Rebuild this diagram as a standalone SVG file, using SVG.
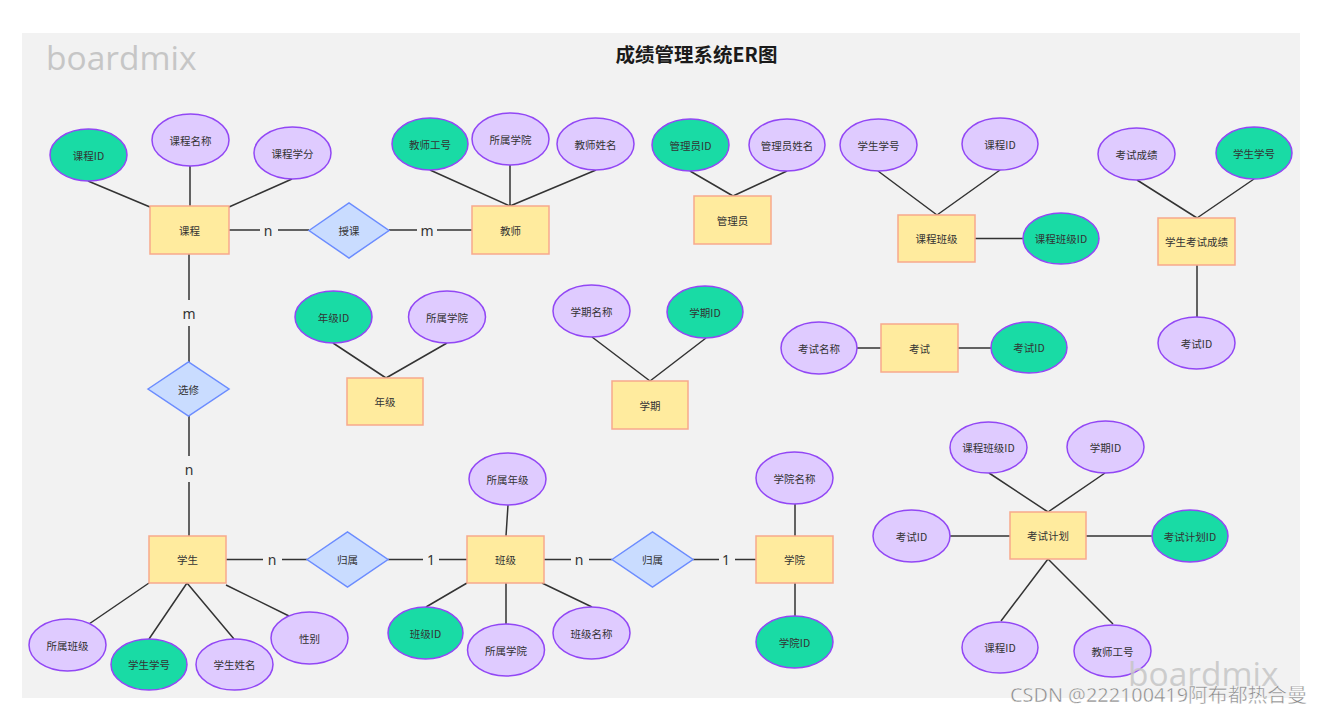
<svg xmlns="http://www.w3.org/2000/svg" width="1323" height="715" viewBox="0 0 1323 715">
<style>
.t{font-family:"Noto Sans CJK SC","Noto Sans",sans-serif;font-size:10.5px;fill:#333;text-anchor:middle;dominant-baseline:central}
.pk{fill:#19dba5;stroke:#9247f5;stroke-width:1.5}
.at{fill:#dfcbff;stroke:#9247f5;stroke-width:1.5}
.en{fill:#ffeb9e;stroke:#f8a98c;stroke-width:1.5}
.rl{fill:#c9dcff;stroke:#6b8cff;stroke-width:1.5}
.ln{stroke:#333;stroke-width:1.5;fill:none}
.lb{font-family:"Noto Sans","Open Sans",sans-serif;font-size:14px;fill:#333;text-anchor:middle;dominant-baseline:central}
</style>
<rect x="0" y="0" width="1323" height="715" fill="#ffffff"/>
<rect x="22" y="33" width="1278" height="665" fill="#f2f2f2"/>
<text x="46" y="70" font-family="Open Sans,Noto Sans,sans-serif" font-size="33.5" fill="#c6c6c6">boardmix</text>
<text x="696.5" y="53" font-family="Noto Sans CJK SC,sans-serif" font-size="19.5" font-weight="bold" fill="#1a1a1a" text-anchor="middle" dominant-baseline="central">成绩管理系统ER图</text>

<g id="connectors">
<path class="ln" d="M88 181L150 207M190 166L190 206M292 179L229 207"/>
<path class="ln" d="M229 230H260M278 230H309M389 230H417M437 230H472"/>
<path class="ln" d="M430 170L510 206M510 165V206M596 170L510 206"/>
<path class="ln" d="M690 171L733 196M787 171L733 196"/>
<path class="ln" d="M878 171L937 215M1000 170L937 215M975 238.5H1023"/>
<path class="ln" d="M1137 180L1197 218M1254 179L1197 218M1197 265V317"/>
<path class="ln" d="M857 348H881M958 348H991"/>
<path class="ln" d="M189 254V300M189 326V362M189 416V456M189 482V536"/>
<path class="ln" d="M333 343L386 378M447 343L386 378"/>
<path class="ln" d="M592 337L650 381M706 338L650 381"/>
<path class="ln" d="M226 559.5H263M282 559.5H307M388 559.5H423M439 559.5H467"/>
<path class="ln" d="M149 583L89 624M187 583L149 639M187 583L234 639M226 585L289 616"/>
<path class="ln" d="M508 505L506 536M467 583L426 607M506 583V624M542 583L592 607"/>
<path class="ln" d="M544 559.5H571M589 559.5H612M693 559.5H719M735 559.5H756"/>
<path class="ln" d="M795 504V536M795 583V616"/>
<path class="ln" d="M989 473L1048 512M1105 473L1048 512M950 536H1010M1086 536H1152M1048 559L1001 621M1048 559L1113 624"/>
<text class="lb" x="268" y="230">n</text>
<text class="lb" x="427" y="230">m</text>
<text class="lb" x="189" y="313">m</text>
<text class="lb" x="189" y="469">n</text>
<text class="lb" x="272" y="559.5">n</text>
<text class="lb" x="431" y="559.5">1</text>
<text class="lb" x="579" y="559.5">n</text>
<text class="lb" x="726" y="559.5">1</text>
</g>

<g id="kecheng"><rect class="en" x="150" y="206" width="79" height="48"/><text class="t" x="189.5" y="230">课程</text></g>
<g id="kecheng-id"><ellipse class="pk" cx="88.5" cy="155" rx="38.5" ry="26"/><text class="t" x="88.5" y="155">课程ID</text></g>
<g id="kecheng-name"><ellipse class="at" cx="190.5" cy="140" rx="38.5" ry="26"/><text class="t" x="190.5" y="140">课程名称</text></g>
<g id="kecheng-credit"><ellipse class="at" cx="292.5" cy="153" rx="38.5" ry="26"/><text class="t" x="292.5" y="153">课程学分</text></g>
<g id="shouke"><polygon class="rl" points="309,230.5 349,203 389,230.5 349,258"/><text class="t" x="349" y="230.5">授课</text></g>

<g id="jiaoshi"><rect class="en" x="472" y="206" width="77" height="48"/><text class="t" x="510.5" y="230">教师</text></g>
<g id="jiaoshi-id"><ellipse class="pk" cx="430" cy="144" rx="38" ry="26"/><text class="t" x="430" y="144">教师工号</text></g>
<g id="jiaoshi-college"><ellipse class="at" cx="510.5" cy="139" rx="38.5" ry="26"/><text class="t" x="510.5" y="139">所属学院</text></g>
<g id="jiaoshi-name"><ellipse class="at" cx="595.5" cy="144" rx="38.5" ry="26"/><text class="t" x="595.5" y="144">教师姓名</text></g>

<g id="admin"><rect class="en" x="694" y="196" width="77" height="48"/><text class="t" x="732.5" y="220">管理员</text></g>
<g id="admin-id"><ellipse class="pk" cx="690.5" cy="145" rx="38.5" ry="26"/><text class="t" x="690.5" y="145">管理员ID</text></g>
<g id="admin-name"><ellipse class="at" cx="787" cy="145" rx="38" ry="26"/><text class="t" x="787" y="145">管理员姓名</text></g>

<g id="course-class"><rect class="en" x="898" y="215" width="77" height="47"/><text class="t" x="936.5" y="238.5">课程班级</text></g>
<g id="cc-stu"><ellipse class="at" cx="878.5" cy="145" rx="38.5" ry="26"/><text class="t" x="878.5" y="145">学生学号</text></g>
<g id="cc-course"><ellipse class="at" cx="1000" cy="144" rx="38" ry="26"/><text class="t" x="1000" y="144">课程ID</text></g>
<g id="cc-id"><ellipse class="pk" cx="1061" cy="238.5" rx="38" ry="25.5"/><text class="t" x="1061" y="238.5">课程班级ID</text></g>

<g id="score"><rect class="en" x="1158" y="218" width="77" height="47"/><text class="t" x="1196.5" y="241.5">学生考试成绩</text></g>
<g id="score-val"><ellipse class="at" cx="1136.5" cy="154" rx="38.5" ry="26"/><text class="t" x="1136.5" y="154">考试成绩</text></g>
<g id="score-stu"><ellipse class="pk" cx="1254" cy="153" rx="38" ry="26"/><text class="t" x="1254" y="153">学生学号</text></g>
<g id="score-exam"><ellipse class="at" cx="1196.5" cy="343" rx="38.5" ry="26"/><text class="t" x="1196.5" y="343">考试ID</text></g>

<g id="exam"><rect class="en" x="881" y="324" width="77" height="48"/><text class="t" x="919.5" y="348">考试</text></g>
<g id="exam-name"><ellipse class="at" cx="819" cy="348" rx="38" ry="26"/><text class="t" x="819" y="348">考试名称</text></g>
<g id="exam-id"><ellipse class="pk" cx="1029" cy="347.5" rx="38" ry="25.5"/><text class="t" x="1029" y="347.5">考试ID</text></g>

<g id="xuanxiu"><polygon class="rl" points="148,389 188.5,362 229,389 188.5,416"/><text class="t" x="188.5" y="389">选修</text></g>

<g id="grade"><rect class="en" x="347" y="378" width="76" height="47"/><text class="t" x="385" y="401.5">年级</text></g>
<g id="grade-id"><ellipse class="pk" cx="333.5" cy="317" rx="38.5" ry="26"/><text class="t" x="333.5" y="317">年级ID</text></g>
<g id="grade-college"><ellipse class="at" cx="447" cy="317" rx="38.5" ry="26"/><text class="t" x="447" y="317">所属学院</text></g>

<g id="term"><rect class="en" x="612" y="381" width="76" height="48"/><text class="t" x="650" y="405">学期</text></g>
<g id="term-name"><ellipse class="at" cx="591.5" cy="311" rx="38.5" ry="26"/><text class="t" x="591.5" y="311">学期名称</text></g>
<g id="term-id"><ellipse class="pk" cx="705" cy="312" rx="38" ry="26"/><text class="t" x="705" y="312">学期ID</text></g>

<g id="student"><rect class="en" x="149" y="536" width="77" height="47"/><text class="t" x="187.5" y="559.5">学生</text></g>
<g id="stu-class"><ellipse class="at" cx="67.5" cy="645" rx="38.5" ry="26"/><text class="t" x="67.5" y="645">所属班级</text></g>
<g id="stu-id"><ellipse class="pk" cx="149" cy="664.5" rx="38" ry="25.5"/><text class="t" x="149" y="664.5">学生学号</text></g>
<g id="stu-name"><ellipse class="at" cx="234.5" cy="664.5" rx="38.5" ry="25.5"/><text class="t" x="234.5" y="664.5">学生姓名</text></g>
<g id="stu-sex"><ellipse class="at" cx="309.5" cy="638" rx="38.5" ry="26"/><text class="t" x="309.5" y="638">性别</text></g>
<g id="guishu1"><polygon class="rl" points="307,559.5 347.5,532 388,559.5 347.5,587"/><text class="t" x="347.5" y="559.5">归属</text></g>

<g id="class"><rect class="en" x="467" y="536" width="77" height="47"/><text class="t" x="505.5" y="559.5">班级</text></g>
<g id="class-grade"><ellipse class="at" cx="507.5" cy="479" rx="38.5" ry="26"/><text class="t" x="507.5" y="479">所属年级</text></g>
<g id="class-id"><ellipse class="pk" cx="425.5" cy="633" rx="37.5" ry="26"/><text class="t" x="425.5" y="633">班级ID</text></g>
<g id="class-college"><ellipse class="at" cx="506" cy="650" rx="38.5" ry="26"/><text class="t" x="506" y="650">所属学院</text></g>
<g id="class-name"><ellipse class="at" cx="591.5" cy="633" rx="38.5" ry="26"/><text class="t" x="591.5" y="633">班级名称</text></g>
<g id="guishu2"><polygon class="rl" points="612,559.5 652.5,532 693,559.5 652.5,587"/><text class="t" x="652.5" y="559.5">归属</text></g>

<g id="college"><rect class="en" x="756" y="536" width="77" height="47"/><text class="t" x="794.5" y="559.5">学院</text></g>
<g id="college-name"><ellipse class="at" cx="794.5" cy="478" rx="38.5" ry="26"/><text class="t" x="794.5" y="478">学院名称</text></g>
<g id="college-id"><ellipse class="pk" cx="794.5" cy="642" rx="38.5" ry="26"/><text class="t" x="794.5" y="642">学院ID</text></g>

<g id="plan"><rect class="en" x="1010" y="512" width="76" height="47"/><text class="t" x="1048" y="535.5">考试计划</text></g>
<g id="plan-cc"><ellipse class="at" cx="988.5" cy="447.5" rx="38.5" ry="25.5"/><text class="t" x="988.5" y="447.5">课程班级ID</text></g>
<g id="plan-term"><ellipse class="at" cx="1105.5" cy="447" rx="38.5" ry="26"/><text class="t" x="1105.5" y="447">学期ID</text></g>
<g id="plan-exam"><ellipse class="at" cx="911.5" cy="536" rx="38.5" ry="26"/><text class="t" x="911.5" y="536">考试ID</text></g>
<g id="plan-id"><ellipse class="pk" cx="1190" cy="536" rx="38" ry="26"/><text class="t" x="1190" y="536">考试计划ID</text></g>
<g id="plan-course"><ellipse class="at" cx="1000" cy="647.5" rx="38" ry="25.5"/><text class="t" x="1000" y="647.5">课程ID</text></g>
<g id="plan-teacher"><ellipse class="at" cx="1112.5" cy="651" rx="38.5" ry="26"/><text class="t" x="1112.5" y="651">教师工号</text></g>

<text x="1128" y="686" font-family="Open Sans,Noto Sans,sans-serif" font-size="33.5" fill="#c6c6c6" fill-opacity="0.85">boardmix</text>
<text x="1010" y="702" font-family="Noto Sans,Noto Sans CJK SC,sans-serif" font-size="19.5" textLength="297" lengthAdjust="spacingAndGlyphs" fill="#8a8a8a" stroke="#ffffff" stroke-width="0.4">CSDN @222100419阿布都热合曼</text>
</svg>
